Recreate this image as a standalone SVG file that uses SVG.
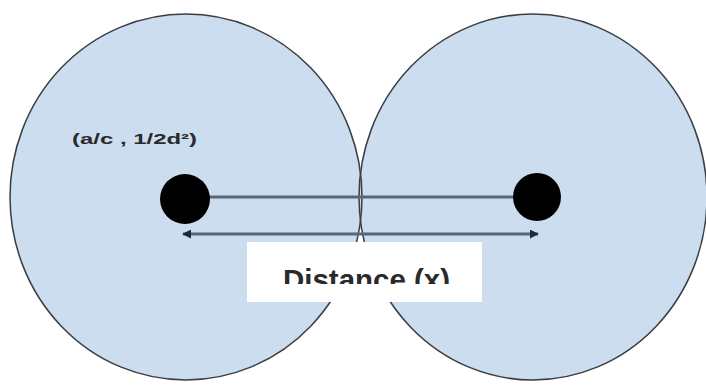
<svg xmlns="http://www.w3.org/2000/svg" width="706" height="387" viewBox="0 0 706 387">
<style>
.fill{fill:#cbddef;stroke:none}
.edge{fill:none;stroke:#3a3d42;stroke-width:1.5}
.dot{fill:#000}
.conn{stroke:#5a6675;stroke-width:3;fill:none}
.lbl{font-family:"Liberation Sans",Arial,sans-serif;font-weight:bold;fill:#2a2a2a}
</style>
<defs>
<marker id="ah" viewBox="0 0 10 10" refX="9" refY="5" markerWidth="3" markerHeight="3" orient="auto-start-reverse" markerUnits="strokeWidth">
<path d="M0,0 L10,5 L0,10 z" fill="#1e2a38"/>
</marker>
<clipPath id="tc"><rect x="247" y="242" width="235" height="42"/></clipPath>
</defs>
<rect width="706" height="387" fill="#fff"/>
<g id="left-region">
<ellipse class="fill" cx="186" cy="197" rx="176" ry="183"/>
</g>
<g id="right-region">
<ellipse class="fill" cx="533" cy="197" rx="174" ry="183"/>
</g>
<ellipse class="edge" cx="186" cy="197" rx="176" ry="183"/>
<ellipse class="edge" cx="533" cy="197" rx="174" ry="183"/>
<g id="connectors">
<line class="conn" x1="205" y1="197" x2="515" y2="197"/>
<line class="conn" x1="183" y1="234" x2="538" y2="234" stroke-width="2.5" marker-start="url(#ah)" marker-end="url(#ah)"/>
</g>
<g id="left-dot"><circle class="dot" cx="185" cy="199" r="25"/></g>
<g id="right-dot"><circle class="dot" cx="537" cy="197" r="24"/></g>
<g id="coord-label">
<text class="lbl" x="72" y="144" font-size="15" textLength="125" lengthAdjust="spacingAndGlyphs">(a/c , 1/2d²)</text>
</g>
<g id="distance-box">
<rect x="247" y="242" width="235" height="60" fill="#fff"/>
<text class="lbl" x="283" y="290" font-size="29" fill="#111" textLength="167" lengthAdjust="spacingAndGlyphs" clip-path="url(#tc)">Distance (x)</text>
</g>
</svg>
